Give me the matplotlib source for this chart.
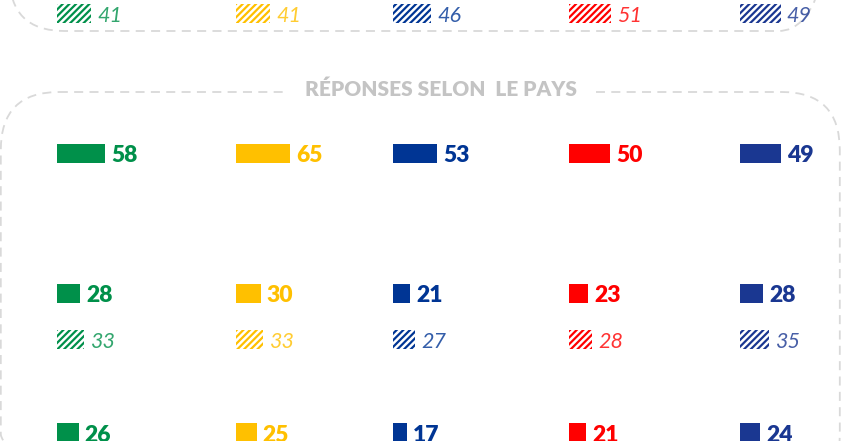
import matplotlib
matplotlib.use("Agg")
import matplotlib.pyplot as plt
from matplotlib.patches import FancyBboxPatch

# ---- data ----
parties = ["P1", "P2", "P3", "P4", "P5"]
colors = ["#00904A", "#FFC000", "#003594", "#FF0000", "#1A3791"]
top_hatched = [41, 41, 46, 51, 49]
row1_solid = [58, 65, 53, 50, 49]
row2_solid = [28, 30, 21, 23, 28]
row2_hatched = [33, 33, 27, 28, 35]
row3_solid = [26, 25, 17, 21, 24]
title_text = "RÉPONSES SELON  LE PAYS"

plt.rcParams["hatch.linewidth"] = 1.6
FONT = ["Lato", "DejaVu Sans"]

fig = plt.figure(figsize=(8.41, 4.41), dpi=100)
ax = fig.add_axes([0, 0, 1, 1])
ax.set_xlim(0, 841)
ax.set_ylim(441, 0)
ax.axis("off")

col_x = [57, 236, 393, 569, 740]
PX = 0.83  # pixels per percentage point
BAR_H = 19


def draw_row(values, yc, hatched):
    for x0, v, c in zip(col_x, values, colors):
        w = v * PX
        if hatched:
            ax.barh(yc, w, left=x0, height=BAR_H, facecolor="white",
                    edgecolor=c, hatch="/////", linewidth=0, zorder=3)
            ax.text(x0 + w + 6, yc + BAR_H / 2 - 0.5, str(v), color=c, alpha=0.8,
                    fontsize=15.5, style="italic", family=FONT,
                    va="baseline", ha="left", zorder=4)
        else:
            ax.barh(yc, w, left=x0, height=BAR_H, color=c, linewidth=0, zorder=3)
            ax.text(x0 + w + 6, yc + BAR_H / 2 - 0.5, str(v), color=c,
                    fontsize=16.5, fontweight="heavy", family=FONT,
                    va="baseline", ha="left", zorder=4)


draw_row(top_hatched, 13.5, True)
draw_row(row1_solid, 153.5, False)
draw_row(row2_solid, 293, False)
draw_row(row2_hatched, 339.5, True)
draw_row(row3_solid, 432.5, False)

# dashed rounded frames
box_kw = dict(facecolor="none", edgecolor="#d9d9d9", linewidth=1.3,
              linestyle=(0, (5, 3.5)), zorder=1)
ax.add_patch(FancyBboxPatch((9.5, -200), 824, 231,
                            boxstyle="round,pad=0,rounding_size=55", **box_kw))
ax.add_patch(FancyBboxPatch((0.8, 92), 839, 400,
                            boxstyle="round,pad=0,rounding_size=58", **box_kw))

ax.text(441.5, 89.5, title_text, color="#c4c4c4", fontsize=15,
        fontweight="heavy", family=FONT, ha="center", va="center", zorder=2,
        bbox=dict(boxstyle="square,pad=0.9", facecolor="white",
                  edgecolor="none"))

fig.savefig("out.png", dpi=100)
